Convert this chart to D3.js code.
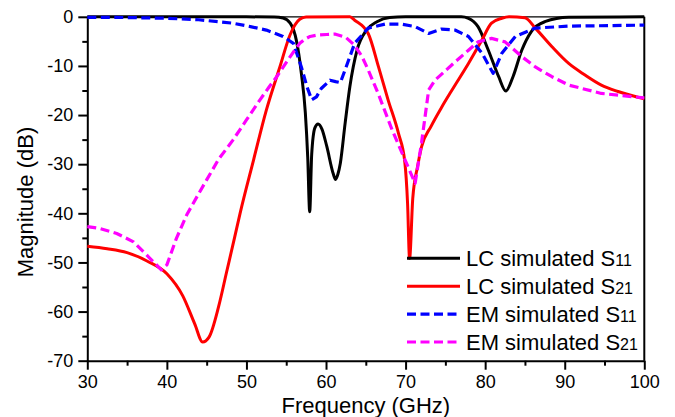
<!DOCTYPE html>
<html>
<head>
<meta charset="utf-8">
<script src="https://cdn.jsdelivr.net/npm/d3@7"></script>
<style>
  html, body { margin: 0; padding: 0; background: #fff; }
  svg { display: block; font-family: "Liberation Sans", Arial, sans-serif; }
</style>
</head>
<body>
<div id="chart"></div>
<script>
// S-parameter comparison: LC model vs EM simulation, magnitude in dB over 30-100 GHz.

const X_TICKS = [30, 40, 50, 60, 70, 80, 90, 100];
const Y_TICKS = [-70, -60, -50, -40, -30, -20, -10, 0];

// [frequency GHz, magnitude dB]
const LC_S11 = [
  [30, 0], [50, 0], [53.5, -0.05], [54.6, -0.25], [55.5, -1.3], [56.3, -5], [56.9, -11.5],
  [57.4, -19.5], [57.7, -28.5], [57.95, -39.7], [58.2, -28], [58.6, -22.6], [59.0, -21.8],
  [59.5, -22.9], [60.1, -26.4], [60.9, -31.9], [61.2, -33.1], [61.5, -32], [61.8, -29.8],
  [62.4, -21.7], [63.0, -14.2], [63.9, -6.8], [65.1, -2.7], [66.4, -1.0], [68.0, -0.15],
  [70, 0], [77, 0], [77.9, -0.3], [79.1, -2.0], [80.4, -6.8], [81.7, -12.2], [82.6, -15.1],
  [83.5, -12.2], [84.6, -6.8], [85.8, -3.0], [87.5, -1.0], [90.5, -0.1], [100, 0],
];

const LC_S21 = [
  [30, -46.7], [32.5, -47.2], [35, -48], [37.5, -49.7], [40, -52.3], [42, -56.8], [43.5, -62.5],
  [44.5, -66.2], [45.3, -65.2], [46.5, -59], [47.5, -52], [48.5, -45], [49.2, -40], [50.9, -29.1],
  [52.5, -19], [54.2, -10.2], [55.5, -3.6], [56.7, -0.5], [57.5, -0.05], [63, 0], [63.6, -0.7],
  [65.3, -3.4], [66.6, -10.2], [67.8, -16.9], [69.1, -23.7], [69.9, -29.5], [70.25, -38],
  [70.5, -49.2], [70.9, -37], [71.5, -30.5], [72.0, -26.5], [73.2, -22.3], [74.5, -18.5],
  [75.8, -15], [77.9, -9.5], [79.6, -4.7], [80.8, -1.3], [82.1, -0.3], [83, 0], [85, -0.2],
  [86.3, -2.3], [88.4, -6.1], [90.5, -9.5], [92.5, -11.8], [94.6, -13.9], [96.7, -15.2], [100, -16.7],
];

const EM_S11 = [
  [30, -0.1], [35, -0.15], [40, -0.3], [44, -0.6], [48.3, -1.3], [50.5, -2], [52.5, -2.7],
  [54.6, -4], [55.9, -5.4], [56.9, -10.2], [57.6, -14.2], [58.2, -16.9], [58.8, -16.3],
  [59.4, -14.6], [60.5, -12.9], [61.2, -13.2], [61.8, -13.4], [62.4, -10.8], [63.6, -5.4],
  [65.3, -2.3], [67.4, -1.5], [69.5, -1.5], [71.2, -2.0], [72.9, -3.4], [74.5, -2.5],
  [76.2, -2.7], [77.9, -4], [79.6, -7.4], [81.0, -11.5], [82.1, -7.4], [83.8, -4],
  [86.3, -2.3], [90.5, -1.9], [100, -1.7],
];

const EM_S21 = [
  [30, -42.7], [31.6, -43.1], [33.7, -44.1], [35.8, -45.8], [37.9, -49.2], [39.3, -51.5],
  [40.0, -50.5], [41.2, -45.1], [42.5, -40.3], [44, -36], [45.0, -33.2], [46.5, -29],
  [48.3, -25.1], [50, -21], [51.7, -16.9], [52.8, -14.4], [53.8, -12.2], [55.5, -8.1],
  [56.7, -5.4], [57.3, -4.6], [58.0, -4], [59, -3.7], [60.1, -3.6], [61.1, -3.5], [62.5, -4.2],
  [63.6, -5.8], [64.5, -8], [65.3, -10.8], [66.6, -15.8], [68.3, -23], [69.9, -29], [71.2, -33.9],
  [72.0, -25.7], [72.9, -14.9], [73.7, -12.9], [75.8, -9.8], [77.9, -6.8], [79.1, -5.1],
  [80.8, -4.4], [82.5, -5.1], [84.6, -8.1], [86.3, -10.2], [88.4, -12.2], [90.5, -13.9],
  [94.6, -15.6], [100, -16.5],
];

const SERIES = [
  { name: "LC simulated S", sub: "11", data: LC_S11, color: "#000000", dash: null,  curve: d3.curveMonotoneX },
  { name: "LC simulated S", sub: "21", data: LC_S21, color: "#ff0000", dash: null,  curve: d3.curveMonotoneX },
  { name: "EM simulated S", sub: "11", data: EM_S11, color: "#0000ff", dash: "9,4.5", curve: d3.curveLinear },
  { name: "EM simulated S", sub: "21", data: EM_S21, color: "#ff00ff", dash: "9,4.5", curve: d3.curveLinear },
];

// ── Layout ──────────────────────────────────────────────────────────────────

const W = 675, H = 417;
const margin = { top: 16.8, right: 30.7, bottom: 56.3, left: 87.3 };
const innerW = W - margin.left - margin.right;
const innerH = H - margin.top - margin.bottom;

const x = d3.scaleLinear().domain([30, 100]).range([0, innerW]);
const y = d3.scaleLinear().domain([-70, 0]).range([innerH, 0]);

const svg = d3.select("#chart").append("svg").attr("width", W).attr("height", H);
const g   = svg.append("g").attr("transform", `translate(${margin.left},${margin.top})`);

// minor ticks
g.append("g")
  .attr("transform", `translate(0,${innerH})`)
  .call(d3.axisBottom(x).tickValues(d3.range(35, 100, 10)).tickSize(5).tickFormat(""))
  .call(ax => ax.select(".domain").remove())
  .selectAll("line").attr("stroke", "#000").attr("stroke-width", 2);

g.append("g")
  .call(d3.axisLeft(y).tickValues(d3.range(-65, 0, 10)).tickSize(5).tickFormat(""))
  .call(ax => ax.select(".domain").remove())
  .selectAll("line").attr("stroke", "#000").attr("stroke-width", 2);

// major ticks + labels
g.append("g")
  .attr("transform", `translate(0,${innerH})`)
  .call(d3.axisBottom(x).tickValues(X_TICKS).tickSize(9).tickSizeOuter(0).tickPadding(6).tickFormat(d => String(d)))
  .call(ax => ax.select(".domain").attr("stroke-width", 2))
  .call(ax => ax.selectAll("line").attr("stroke-width", 2))
  .selectAll("text").style("font-size", "18px").style("fill", "#000")
    .style("font-family", "'Liberation Sans', Arial, sans-serif");

g.append("g")
  .call(d3.axisLeft(y).tickValues(Y_TICKS).tickSize(9).tickSizeOuter(0).tickPadding(5).tickFormat(d => String(d)))
  .call(ax => ax.select(".domain").attr("stroke-width", 2))
  .call(ax => ax.selectAll("line").attr("stroke-width", 2))
  .selectAll("text").style("font-size", "18px").style("fill", "#000")
    .style("font-family", "'Liberation Sans', Arial, sans-serif");

// frame: right and top borders
g.append("line").attr("x1", innerW).attr("x2", innerW).attr("y1", 0).attr("y2", innerH)
  .attr("stroke", "#000").attr("stroke-width", 2);
g.append("line").attr("x1", 0).attr("x2", innerW).attr("y1", 0).attr("y2", 0)
  .attr("stroke", "#000").attr("stroke-width", 1.2);

// axis titles
svg.append("text")
  .attr("x", margin.left + innerW / 2).attr("y", 413)
  .attr("text-anchor", "middle").style("font-size", "22px").style("fill", "#000")
  .text("Frequency (GHz)");

svg.append("text")
  .attr("transform", "translate(33,202) rotate(-90)")
  .attr("text-anchor", "middle").style("font-size", "22px").style("fill", "#000")
  .text("Magnitude (dB)");

// curves
SERIES.forEach(s => {
  const line = d3.line().x(d => x(d[0])).y(d => y(d[1])).curve(s.curve);
  g.append("path")
    .datum(s.data)
    .attr("d", line)
    .attr("fill", "none")
    .attr("stroke", s.color)
    .attr("stroke-width", s.dash ? 3.2 : 3)
    .attr("stroke-dasharray", s.dash)
    .attr("stroke-linejoin", "round");
});

// legend
const legend = svg.append("g").attr("transform", "translate(407,258.3)");
SERIES.forEach((s, i) => {
  const row = legend.append("g").attr("transform", `translate(0,${i * 27.9})`);
  row.append("line").attr("x1", 0).attr("x2", 53).attr("y1", 0).attr("y2", 0)
    .attr("stroke", s.color).attr("stroke-width", s.dash ? 3.2 : 3)
    .attr("stroke-dasharray", s.dash);
  const t = row.append("text").attr("x", 59).attr("y", 7.6)
    .style("font-size", "22px").style("fill", "#000");
  t.append("tspan").text(s.name);
  t.append("tspan").style("font-size", "16px").text(s.sub);
});
</script>
</body>
</html>
